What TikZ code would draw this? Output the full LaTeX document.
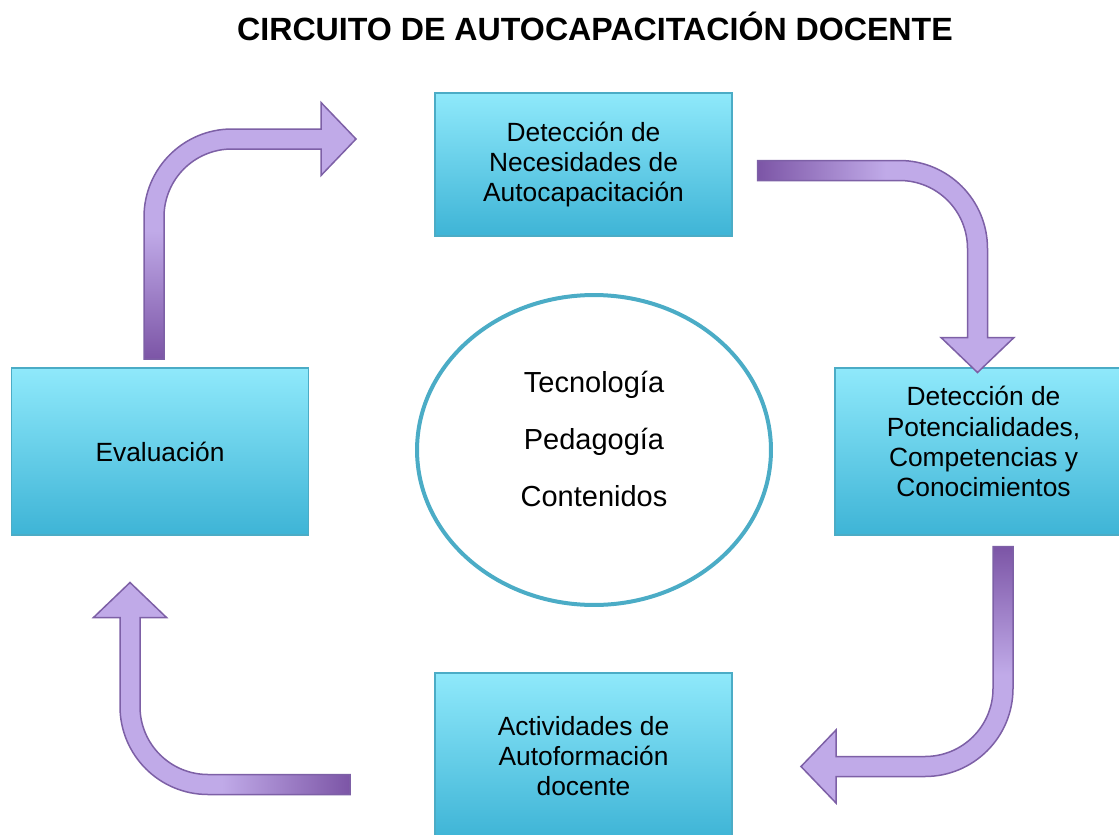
\documentclass[tikz,border=0pt]{standalone}
\usepackage{fontspec}
\setmainfont{Liberation Sans}
\usepackage{xcolor}
\usepackage{tikz}
\usetikzlibrary{shapes.geometric}
%
\definecolor{cajaclara}{RGB}{143,233,251}
\definecolor{cajaoscura}{RGB}{62,180,214}
\definecolor{borde}{RGB}{75,172,198}
\definecolor{flechaclara}{RGB}{192,170,232}
\definecolor{flechaoscura}{RGB}{124,85,166}
\definecolor{flechaborde}{RGB}{125,96,166}
%
\pgfdeclareverticalshading{flechagrad}{100bp}{color(0bp)=(flechaoscura); color(25bp)=(flechaoscura); color(50bp)=(flechaclara); color(100bp)=(flechaclara)}
%
% flecha curva: #1 esquina, #2 giro, #3 angulo del degradado
\newcommand{\flecha}[3]{%
\begin{scope}[shift={(#1)},rotate=#2]
\shadedraw[shading=flechagrad,shading angle=#3,draw=flechaborde,line width=0.03cm]
 (-10,220) -- (-10,78) .. controls (-10,29.4) and (29.4,-10) .. (78,-10)
 -- (167,-10) -- (167,-36.5) -- (202,0) -- (167,36.5) -- (167,10)
 -- (78,10) .. controls (40.4,10) and (10,40.4) .. (10,78) -- (10,220) -- cycle;
\end{scope}}

\begin{document}
\begin{tikzpicture}[x=0.02cm,y=-0.02cm,
  caja/.style={rectangle,draw=borde,line width=0.03cm,top color=cajaclara,bottom color=cajaoscura,
    minimum width=5.94cm,align=center,font=\fontsize{15}{17.3}\selectfont}]
\useasboundingbox (0,0) rectangle (1119,835);
%
\node (titulo) at (595,40) [anchor=base,font=\bfseries\fontsize{18.3}{22}\selectfont] {CIRCUITO DE AUTOCAPACITACIÓN DOCENTE};
%
\node (nec) at (583.5,164.5) [caja,minimum height=2.86cm] {Detección de\\Necesidades de\\Autocapacitación};
\node (pot) at (983.5,451.5) [caja,minimum height=3.34cm,text depth=0.4cm] {Detección de\\Potencialidades,\\Competencias y\\Conocimientos};
\node (act) at (583.5,756) [caja,minimum height=3.32cm] {Actividades de\\Autoformación\\docente};
\node (eva) at (160,451.5) [caja,minimum height=3.34cm] {Evaluación};
%
\node (cen) at (594,450) [ellipse,draw=borde,line width=0.08cm,minimum width=7.08cm,minimum height=6.2cm,
  align=center,font=\fontsize{16.5}{32.4}\selectfont,text depth=0.44cm] {Tecnología\\Pedagogía\\Contenidos};
%
\coordinate (g1) at (154,139);
\coordinate (g2) at (977.5,170.5);
\coordinate (g3) at (1003,766.5);
\coordinate (g4) at (130,784.5);
%
\flecha{g1}{0}{0}
\flecha{g2}{-90}{-90}
\flecha{g3}{180}{180}
\flecha{g4}{90}{90}
\end{tikzpicture}
\end{document}
